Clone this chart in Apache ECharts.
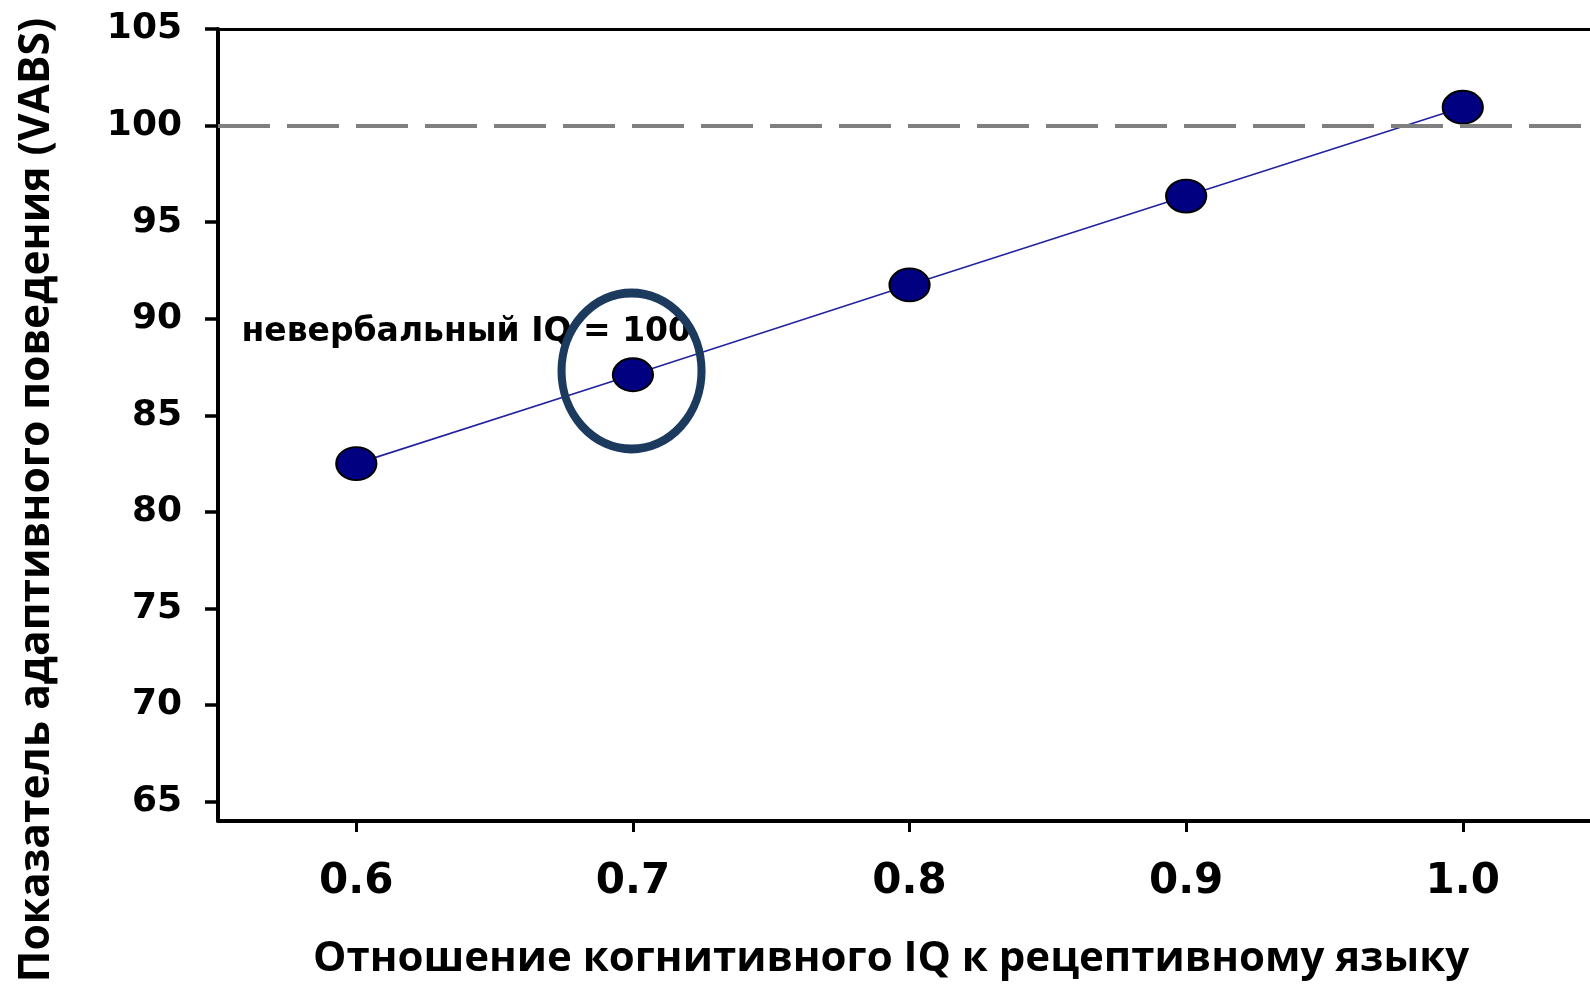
<!DOCTYPE html>
<html>
<head>
<meta charset="utf-8">
<script src="https://cdn.jsdelivr.net/npm/echarts@6/dist/echarts.min.js"></script>
<style>
html,body{margin:0;padding:0;background:#fff;}
#chart{width:1590px;height:987px;}
</style>
</head>
<body>
<div id="chart"></div>
<script>
// ---- data ----
const ratios = [0.6, 0.7, 0.8, 0.9, 1.0];
const vabsScores = [82.5, 87.1, 91.75, 96.35, 100.95];
const xTickValues = [0.6, 0.7, 0.8, 0.9, 1.0];
const yTickValues = [65, 70, 75, 80, 85, 90, 95, 100, 105];
const referenceLevel = 100;
const noteText = 'невербальный IQ = 100';
const notePoint = [0.5585, 89.3];
const circlePoint = [0.6995, 87.3];
const xTitle = 'Отношение когнитивного IQ к рецептивному языку';
const yTitle = 'Показатель адаптивного поведения (VABS)';

const chart = echarts.init(document.getElementById('chart'), null, {renderer: 'canvas'});
const valueFont = 'DejaVu Sans';
const titleFont = 'Open Sans';

const option = {
  animation: false,
  backgroundColor: '#ffffff',
  grid: {left: 218, top: 29, right: 0, bottom: 166, containLabel: false},
  xAxis: [{
    type: 'value', min: 0.55, max: 1.046,
    position: 'bottom',
    name: xTitle, nameLocation: 'middle', nameGap: 117,
    nameTextStyle: {fontFamily: titleFont, fontWeight: 'bold', fontSize: 42, color: '#000', padding: [0, 26, 0, 0]},
    axisLine: {show: true, onZero: false, lineStyle: {color: '#000', width: 4}},
    axisTick: {show: true, customValues: xTickValues, length: 11, lineStyle: {color: '#000', width: 3}},
    axisLabel: {show: true, customValues: xTickValues, margin: 40, fontFamily: valueFont, fontWeight: 'bold', fontSize: 42, color: '#000',
      formatter: v => v.toFixed(1)},
    splitLine: {show: false}
  }, {
    type: 'value', min: 0.55, max: 1.046, position: 'top',
    axisLine: {show: true, onZero: false, lineStyle: {color: '#000', width: 3}},
    axisTick: {show: false}, axisLabel: {show: false}, splitLine: {show: false}
  }],
  yAxis: {
    type: 'value', min: 64, max: 105,
    name: yTitle, nameLocation: 'middle', nameGap: 160, nameRotate: 90,
    nameTextStyle: {fontFamily: titleFont, fontWeight: 'bold', fontSize: 42.5, color: '#000', padding: [0, 150, 0, 0]},
    axisLine: {show: true, onZero: false, lineStyle: {color: '#000', width: 4}},
    axisTick: {show: true, customValues: yTickValues, length: 13, lineStyle: {color: '#000', width: 3.5}},
    axisLabel: {show: true, customValues: yTickValues, margin: 36, fontFamily: valueFont, fontWeight: 'bold', fontSize: 36, color: '#000'},
    splitLine: {show: false}
  },
  series: [
    {
      type: 'line', data: [], silent: true, z: 1,
      markLine: {
        silent: true, symbol: ['none', 'none'], label: {show: false},
        lineStyle: {color: '#808080', width: 4, type: [52, 17], opacity: 1},
        data: [{yAxis: referenceLevel}]
      }
    },
    {
      type: 'scatter', z: 2, silent: true,
      data: [notePoint],
      symbolSize: 0, itemStyle: {color: '#000', opacity: 1},
      label: {show: true, position: 'right', distance: 0, formatter: noteText,
        fontFamily: valueFont, fontWeight: 'bold', fontSize: 33, color: '#000', opacity: 1}
    },
    {
      type: 'line', z: 3,
      data: ratios.map((r, i) => [r, vabsScores[i]]),
      symbol: 'circle', symbolSize: [40, 33], showSymbol: true,
      lineStyle: {color: '#2323a0', width: 1.6},
      itemStyle: {color: '#000080', borderColor: '#000', borderWidth: 2, opacity: 1}
    },
    {
      type: 'scatter', z: 4, silent: true,
      data: [circlePoint],
      symbol: 'circle', symbolSize: [140, 156],
      itemStyle: {color: 'rgba(0,0,0,0)', borderColor: '#1c3a5e', borderWidth: 8.5, opacity: 1}
    }
  ]
};
chart.setOption(option);
</script>
</body>
</html>
